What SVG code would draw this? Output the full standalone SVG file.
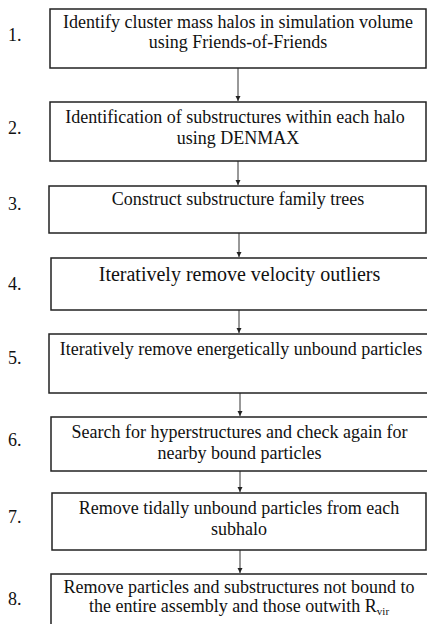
<svg xmlns="http://www.w3.org/2000/svg" width="427" height="624" viewBox="0 0 427 624">
<defs>
<style>
.box{fill:#fff;stroke:#222;stroke-width:1.5}
.t{font-family:"Liberation Serif","Times New Roman",serif;font-size:18px;fill:#111;text-anchor:middle}
.n{font-family:"Liberation Serif","Times New Roman",serif;font-size:18px;fill:#111}
.c{stroke:#333;stroke-width:1;fill:none;marker-end:url(#ah)}
</style>
<marker id="ah" markerWidth="6" markerHeight="6" refX="5" refY="3" orient="auto" markerUnits="userSpaceOnUse">
<path d="M0,0.5 L5,3 L0,5.5 Z" fill="#222"/>
</marker>
</defs>
<rect width="427" height="624" fill="#fff"/>
<g id="connectors">
<line class="c" x1="238" y1="68" x2="238" y2="101"/>
<line class="c" x1="238" y1="161" x2="238" y2="185"/>
<line class="c" x1="239" y1="233" x2="239" y2="257"/>
<line class="c" x1="239" y1="310" x2="239" y2="333"/>
<line class="c" x1="240" y1="393" x2="240" y2="416"/>
<line class="c" x1="240" y1="471" x2="240" y2="492"/>
<line class="c" x1="240" y1="550" x2="240" y2="573"/>
</g>
<g id="n1">
<rect class="box" x="50" y="9" width="376" height="59"/>
<text class="n" x="8" y="41">1.</text>
<text class="t" x="238" y="28">Identify cluster mass halos in simulation volume</text>
<text class="t" x="238" y="48">using Friends-of-Friends</text>
</g>
<g id="n2">
<rect class="box" x="50" y="102" width="376" height="59"/>
<text class="n" x="8" y="134">2.</text>
<text class="t" x="235" y="123">Identification of substructures within each halo</text>
<text class="t" x="238" y="144">using DENMAX</text>
</g>
<g id="n3">
<rect class="box" x="49" y="186" width="377" height="47"/>
<text class="n" x="8" y="210">3.</text>
<text class="t" x="238" y="205">Construct substructure family trees</text>
</g>
<g id="n4">
<rect class="box" x="51" y="258" width="380" height="52"/>
<text class="n" x="8" y="290">4.</text>
<text class="t" x="239.5" y="281" style="font-size:20px">Iteratively remove velocity outliers</text>
</g>
<g id="n5">
<rect class="box" x="49" y="334" width="382" height="59"/>
<text class="n" x="8" y="364">5.</text>
<text class="t" x="241" y="355">Iteratively remove energetically unbound particles</text>
</g>
<g id="n6">
<rect class="box" x="51" y="417" width="380" height="54"/>
<text class="n" x="8" y="446">6.</text>
<text class="t" x="239.5" y="438">Search for hyperstructures and check again for</text>
<text class="t" x="239.5" y="459">nearby bound particles</text>
</g>
<g id="n7">
<rect class="box" x="52" y="493" width="374" height="57"/>
<text class="n" x="8" y="523">7.</text>
<text class="t" x="239" y="514">Remove tidally unbound particles from each</text>
<text class="t" x="239" y="535">subhalo</text>
</g>
<g id="n8">
<rect class="box" x="51" y="574" width="380" height="60"/>
<text class="n" x="8" y="605">8.</text>
<text class="t" x="239" y="593">Remove particles and substructures not bound to</text>
<text class="t" x="239" y="612">the entire assembly and those outwith R<tspan style="font-size:11px" dy="3">vir</tspan></text>
</g>
</svg>
